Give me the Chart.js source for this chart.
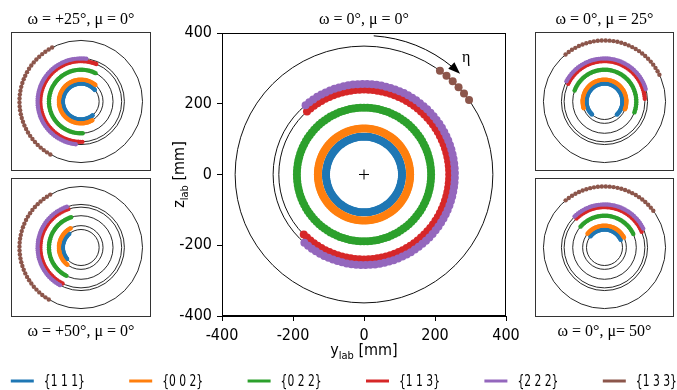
<!DOCTYPE html>
<html><head><meta charset="utf-8">
<script src="https://cdn.jsdelivr.net/npm/chart.js@4/dist/chart.umd.min.js"></script>
<style>
html,body{margin:0;padding:0;background:#fff;}
#wrap{position:relative;width:677px;height:390px;overflow:hidden;background:#fff;}
canvas{position:absolute;display:block;}
</style></head><body>
<div id="wrap">
<canvas id="main" width="677" height="390" style="left:0;top:0;"></canvas>
<canvas id="pOm25" width="140" height="139" style="left:11px;top:32px;"></canvas>
<canvas id="pOm50" width="140" height="139" style="left:11px;top:178px;"></canvas>
<canvas id="pMu25" width="139" height="139" style="left:535px;top:32px;"></canvas>
<canvas id="pMu50" width="139" height="139" style="left:535px;top:178px;"></canvas>
</div>
<script>
// ---------------- data ----------------
const families = ['{1 1 1}', '{0 0 2}', '{0 2 2}', '{1 1 3}', '{2 2 2}', '{1 3 3}'];
const colors   = ['#1f77b4', '#ff7f0e', '#2ca02c', '#d62728', '#9467bd', '#8c564b'];
const ringRadius = [107, 130, 189, 240, 256, 363];      // mm, Debye ring radius on detector
const angleStep  = [3, 3, 3, 3, 3, 3.7];                 // deg between spots along a ring
// visible arc of each ring [start, end] (deg, counter-clockwise from +y_lab)
const arcsMain = [[0,360],[0,360],[0,360],[-135,134],[-131,131],[35.4,53.9]];
const arcsOm25 = [[40,312],[49,301],[63,273],[68,273],[83,264],[118,242]];
const arcsOm50 = [[130,220],[118,232],[108,243],[108,243],[109,242],[120,240]];
const arcsMu25 = [[-47,228],[-21,198],[-20,161],[4,154],[17,153],[26,131]];
const arcsMu50 = [[25,143],[27,142],[25,141],[23,134],[26,134],[37,131]];
const axisTicks = [-400, -200, 0, 200, 400];
const mainTitle = 'ω = 0°, μ = 0°';
const panelTitles = {pOm25:'ω = +25°, μ = 0°', pOm50:'ω = +50°, μ = 0°', pMu25:'ω = 0°, μ = 25°', pMu50:'ω = 0°, μ= 50°'};
const etaArrow = {r: 393, from: 86, to: 46.5};

// ---------------- helpers ----------------
function arcPoints(r, a0, a1, step){
  const pts = [];
  const full = (a1 - a0) >= 360;
  const n = Math.floor((a1 - a0) / step + 1e-9);
  for (let k = 0; k <= n; k++){
    if (full && k * step >= 360 - 1e-9) break;
    const a = (a0 + k * step) * Math.PI / 180;
    pts.push({x: r * Math.cos(a), y: r * Math.sin(a)});
  }
  return pts;
}
function buildSets(arcs, rad){
  return families.map((f, i) => ({
    label: f,
    data: arcPoints(ringRadius[i], arcs[i][0], arcs[i][1], angleStep[i]),
    backgroundColor: colors[i], borderColor: colors[i], borderWidth: 0,
    pointRadius: rad, pointHoverRadius: rad, order: 10 - i
  }));
}
function drawRings(chart, lw){
  const {ctx} = chart; const xs = chart.scales.x, ys = chart.scales.y;
  const cx = xs.getPixelForValue(0), cy = ys.getPixelForValue(0);
  ctx.save(); ctx.strokeStyle = '#111'; ctx.lineWidth = lw;
  ringRadius.forEach(r => {
    const rx = xs.getPixelForValue(r) - cx, ry = cy - ys.getPixelForValue(r);
    ctx.beginPath(); ctx.ellipse(cx, cy, rx, ry, 0, 0, Math.PI * 2); ctx.stroke();
  });
  ctx.restore();
}
const sans = "'DejaVu Sans Condensed', Roboto, sans-serif";
const tickFont = {family: sans, size: 16};
const serif = "'Liberation Serif', 'DejaVu Serif', serif";

function subLabel(ctx, parts, x, y, rotate){
  ctx.save();
  ctx.translate(x, y); if (rotate) ctx.rotate(-Math.PI / 2);
  let total = 0;
  parts.forEach(p => { ctx.font = p[1] + 'px ' + sans; total += ctx.measureText(p[0]).width; });
  let cur = -total / 2;
  ctx.fillStyle = '#000'; ctx.textBaseline = 'alphabetic'; ctx.textAlign = 'left';
  parts.forEach(p => { ctx.font = p[1] + 'px ' + sans; ctx.fillText(p[0], cur, p[2]); cur += ctx.measureText(p[0]).width; });
  ctx.restore();
}

// ---------------- main chart ----------------
const mainPlugin = {
  id: 'mainDecor',
  beforeDatasetsDraw(chart){ drawRings(chart, 1); },
  afterDraw(chart){
    const {ctx, chartArea: a} = chart; const xs = chart.scales.x, ys = chart.scales.y;
    ctx.save();
    ctx.strokeStyle = '#000'; ctx.lineWidth = 1;
    ctx.strokeRect(Math.round(a.left) + 0.5, Math.round(a.top) + 0.5, Math.round(a.right - a.left) - 1, Math.round(a.bottom - a.top) - 1);
    // eta arrow
    const cx = xs.getPixelForValue(0), cy = ys.getPixelForValue(0);
    const rx = xs.getPixelForValue(etaArrow.r) - cx, ry = cy - ys.getPixelForValue(etaArrow.r);
    const t = etaArrow.to * Math.PI / 180;
    const tip = {x: cx + rx * Math.cos(t), y: cy - ry * Math.sin(t)};
    const d = {x: Math.sin(t), y: Math.cos(t)};
    const L = 12, W = 4.5;
    const base = {x: tip.x - L * d.x, y: tip.y - L * d.y};
    const endAng = etaArrow.to + (L * 0.8 / rx) * 180 / Math.PI;
    ctx.beginPath();
    ctx.ellipse(cx, cy, rx, ry, 0, -etaArrow.from * Math.PI / 180, -endAng * Math.PI / 180, false);
    ctx.lineWidth = 1; ctx.stroke();
    ctx.beginPath();
    ctx.moveTo(tip.x, tip.y);
    ctx.lineTo(base.x - W * d.y, base.y + W * d.x);
    ctx.lineTo(base.x + W * d.y, base.y - W * d.x);
    ctx.closePath(); ctx.fillStyle = '#000'; ctx.fill();
    ctx.font = '16px ' + serif; ctx.textAlign = 'left'; ctx.textBaseline = 'alphabetic';
    ctx.fillText('η', 462, 62);
    // titles
    ctx.textAlign = 'center';
    ctx.fillText(mainTitle, (a.left + a.right) / 2, 24);
    ctx.fillText(panelTitles.pOm25, 81, 24);
    ctx.fillText(panelTitles.pMu25, 604.5, 24);
    ctx.fillText(panelTitles.pOm50, 81, 336);
    ctx.fillText(panelTitles.pMu50, 604.5, 336);
    // axis labels
    subLabel(ctx, [['y', 16, 0], ['lab', 11, 4], [' [mm]', 16, 0]], (a.left + a.right) / 2, 355, false);
    subLabel(ctx, [['z', 16, 0], ['lab', 11, 4], [' [mm]', 16, 0]], 184, (a.top + a.bottom) / 2, true);
    // legend
    families.forEach((f, i) => {
      const x0 = 10.8 + i * 118.4, y0 = 381;
      ctx.beginPath(); ctx.moveTo(x0, y0); ctx.lineTo(x0 + 23, y0);
      ctx.strokeStyle = colors[i]; ctx.lineWidth = 3; ctx.stroke();
      ctx.fillStyle = '#000'; ctx.font = '15px ' + sans; ctx.textAlign = 'left'; ctx.textBaseline = 'middle';
      ctx.fillText(f, x0 + 33, y0 + 1, 41);
    });
    ctx.restore();
  }
};

const mainSets = buildSets(arcsMain, 4);
mainSets.push({label: 'center', data: [{x: 0, y: 0}], pointStyle: 'cross', pointRadius: 5, pointHoverRadius: 5,
  borderColor: '#000', borderWidth: 1, backgroundColor: '#000', order: 0});

function axisCfg(fit){
  return {
    type: 'linear', min: -400, max: 400,
    afterBuildTicks(s){ s.ticks = axisTicks.map(v => ({value: v})); },
    ticks: {color: '#000', font: tickFont, padding: 5},
    grid: {drawOnChartArea: false, drawTicks: true, tickLength: 5, color: '#000', tickColor: '#000'},
    border: {display: true, color: '#000', width: 1},
    afterFit: fit
  };
}

new Chart(document.getElementById('main'), {
  type: 'scatter',
  data: {datasets: mainSets},
  options: {
    responsive: false, animation: false, events: [],
    plugins: {legend: {display: false}, tooltip: {enabled: false}},
    layout: {padding: {top: 33, right: 171, left: 0, bottom: 0}},
    scales: {
      x: axisCfg(s => { s.height = 74; }),
      y: axisCfg(s => { s.width = 222; })
    }
  },
  plugins: [mainPlugin]
});

// ---------------- side panels ----------------
function makePanel(id, arcs){
  new Chart(document.getElementById(id), {
    type: 'scatter',
    data: {datasets: buildSets(arcs, 2.2)},
    options: {
      responsive: false, animation: false, events: [],
      plugins: {legend: {display: false}, tooltip: {enabled: false}},
      layout: {padding: 0},
      scales: {
        x: {type: 'linear', min: -400, max: 400, display: false},
        y: {type: 'linear', min: -400, max: 400, display: false}
      }
    },
    plugins: [{
      id: 'panelDecor',
      beforeDatasetsDraw(chart){ drawRings(chart, 0.9); },
      afterDraw(chart){
        const {ctx, width, height} = chart;
        ctx.save(); ctx.strokeStyle = '#333'; ctx.lineWidth = 1;
        ctx.strokeRect(0.5, 0.5, width - 1, height - 1); ctx.restore();
      }
    }]
  });
}
makePanel('pOm25', arcsOm25);
makePanel('pOm50', arcsOm50);
makePanel('pMu25', arcsMu25);
makePanel('pMu50', arcsMu50);
</script>
</body></html>
